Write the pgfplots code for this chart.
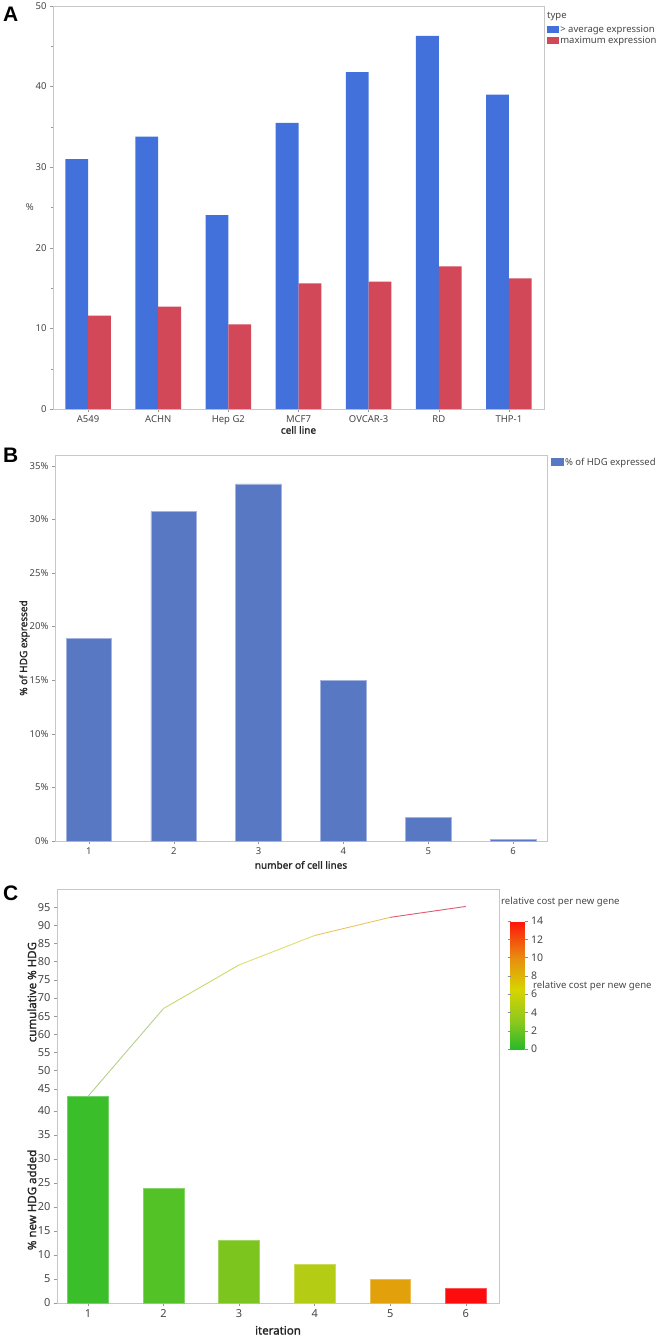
\documentclass[border=0pt]{standalone}
\usepackage{pgfplots}
\pgfplotsset{compat=1.18}
\usepackage{fontspec}
\setmainfont{Noto Sans}
\newfontfamily\labf{Noto Sans}[FakeBold=1.6]
\newfontfamily\arialf{Liberation Sans}
\newcommand\fs[1]{\fontsize{#1bp}{#1bp}\selectfont}
\definecolor{cblue}{RGB}{66,113,220}
\definecolor{cred}{RGB}{211,72,88}
\definecolor{bblue}{RGB}{88,120,196}
\definecolor{c1}{RGB}{58,190,42}
\definecolor{c2}{RGB}{82,194,38}
\definecolor{c3}{RGB}{124,196,30}
\definecolor{c4}{RGB}{180,204,20}
\definecolor{c5}{RGB}{226,160,10}
\definecolor{c6}{RGB}{252,12,12}
\definecolor{l1}{RGB}{181,208,140}
\definecolor{l2}{RGB}{200,216,110}
\definecolor{l3}{RGB}{222,222,110}
\definecolor{l4}{RGB}{234,196,96}
\definecolor{l5}{RGB}{222,90,110}
\definecolor{tk}{RGB}{70,70,70}
\pgfplotsset{
  jmp/.style={
    scale only axis,
    anchor=north west,
    axis line style={draw=black!22},
    tick style={draw=black!40, thin},
    tick align=outside,
    major tick length=3bp,
    minor tick length=2bp,
    xtick pos=bottom, ytick pos=left,
    ticklabel style={font=\fs{9.5}, text=tk},
    label style={font=\labf\fs{10}, text=black!85},
    /pgf/number format/assume math mode=true,
    legend style={draw=none, fill=none, inner sep=0pt, font=\fs{9.5}, text=tk,
      nodes={inner sep=1.2bp}},
    legend cell align=left,
  }
}
\begin{document}
\begin{tikzpicture}
\node[anchor=north west, inner sep=0, font=\arialf\bfseries\fs{21}] at (3bp,-7bp) {A};
\node[anchor=north west, inner sep=0, font=\arialf\bfseries\fs{21}] at (3bp,-448bp) {B};
\node[anchor=north west, inner sep=0, font=\arialf\bfseries\fs{21}] at (3bp,-886bp) {C};

% ---------------- Panel A
\begin{axis}[jmp, at={(53bp,-6bp)}, width=491bp, height=403bp,
  ybar=0pt, bar width=0.325,
  xmin=-0.5, xmax=6.5, ymin=0, ymax=50,
  xtick={0,...,6}, xticklabels={A549,ACHN,Hep G2,MCF7,OVCAR-3,RD,THP-1},
  ytick={0,10,...,50}, minor ytick={5,15,...,45},
  xlabel={cell line}, ylabel={\%},
  xlabel style={at={(axis description cs:0.5,-0.052)}, anchor=center},
  ylabel style={at={(axis description cs:-0.047,0.5)}, anchor=center, rotate=-90, font=\fs{9.5}, text=tk},
  legend style={at={(1.006,0.955)}, anchor=north west},
]
\addplot[fill=cblue, draw=none, legend image code/.code={\fill[cblue] (0bp,-3.5bp) rectangle (12bp,3.5bp);}]
  coordinates {(0,31.0) (1,33.8) (2,24.05) (3,35.5) (4,41.8) (5,46.3) (6,39.0)};
\addplot[fill=cred, draw=none, legend image code/.code={\fill[cred] (0bp,-3.5bp) rectangle (12bp,3.5bp);}]
  coordinates {(0,11.6) (1,12.7) (2,10.5) (3,15.6) (4,15.8) (5,17.7) (6,16.2)};
\legend{> average expression, maximum expression}
\end{axis}
\node[anchor=west, inner sep=0, font=\fs{9.5}, text=tk] at (547bp,-17bp) {type};

% ---------------- Panel B
\begin{axis}[jmp, at={(55bp,-455bp)}, width=492bp, height=386bp,
  xmin=0.6, xmax=6.4, ymin=0, ymax=36,
  xtick={1,...,6}, ytick={0,5,...,35},
  yticklabel={\pgfmathprintnumber{\tick}\%},
  xlabel={number of cell lines}, ylabel={\% of HDG expressed},
  xlabel style={at={(axis description cs:0.5,-0.062)}, anchor=center},
  ylabel style={at={(axis description cs:-0.062,0.5)}, anchor=center},
  legend style={at={(1.008,0.996)}, anchor=north west},
]
\addplot[ybar, bar width=0.54, fill=bblue, draw=bblue!55!white, line width=0.7bp,
  legend image code/.code={\fill[bblue] (0bp,-3.5bp) rectangle (12bp,3.5bp);}]
  coordinates {(1,18.9) (2,30.7) (3,33.3) (4,15.0) (5,2.2) (6,0.12)};
\legend{\% of HDG expressed}
\end{axis}

% ---------------- Panel C (bars)
\begin{axis}[jmp, at={(57bp,-889bp)}, width=442bp, height=414bp,
  xmin=0.59, xmax=6.44, ymin=0, ymax=86.25,
  xtick={1,...,6}, ytick={0,5,...,40},
  ticklabel style={font=\fs{11}},
  label style={font=\labf\fs{11.5}},
  xlabel={iteration}, ylabel={\% new HDG added},
  xlabel style={at={(axis description cs:0.5,-0.066)}, anchor=center},
  ylabel style={at={(axis description cs:-0.057,0.249)}, anchor=center},
]
\addplot[ybar, bar width=0.54, fill=c1, draw=c1!70!white] coordinates {(1,43.0)};
\addplot[ybar, bar width=0.54, fill=c2, draw=c2!70!white] coordinates {(2,24.0)};
\addplot[ybar, bar width=0.54, fill=c3, draw=c3!70!white] coordinates {(3,13.0)};
\addplot[ybar, bar width=0.54, fill=c4, draw=c4!70!white] coordinates {(4,8.0)};
\addplot[ybar, bar width=0.54, fill=c5, draw=c5!70!white] coordinates {(5,5.0)};
\addplot[ybar, bar width=0.54, fill=c6, draw=c6!70!white] coordinates {(6,3.0)};
\end{axis}

% ---------------- Panel C (cumulative line + colour bar)
\begin{axis}[jmp, at={(57bp,-889bp)}, width=442bp, height=414bp,
  xmin=0.59, xmax=6.44, ymin=-14, ymax=100,
  xtick=\empty, ytick={45,50,...,95},
  ticklabel style={font=\fs{11}},
  label style={font=\labf\fs{11.5}},
  axis line style={draw=none},
  ylabel={cumulative \% HDG},
  ylabel style={at={(axis description cs:-0.057,0.751)}, anchor=center},
  colormap={cost}{rgb255(0pt)=(40,185,40); rgb255(30pt)=(140,200,30); rgb255(65pt)=(215,212,0); rgb255(100pt)=(232,140,15); rgb255(140pt)=(255,20,10)},
  point meta min=0, point meta max=14,
  colorbar,
  colorbar style={at={(parent axis.north east)}, anchor=north west, xshift=3bp, yshift=-32bp,
    width=14bp, height=128bp,
    ytick={0,2,...,14}, axis line style={draw=none},
    ytick style={draw=black!45}, major tick length=3bp, tick align=outside,
    yticklabel style={font=\fs{10.5}, text=tk},
    /pgf/number format/assume math mode=true},
]
\addplot[l1, line width=0.9bp] coordinates {(1,42.9) (2,67.1)};
\addplot[l2, line width=0.9bp] coordinates {(2,67.1) (3,79.1)};
\addplot[l3, line width=0.9bp] coordinates {(3,79.1) (4,87.2)};
\addplot[l4, line width=0.9bp] coordinates {(4,87.2) (5,92.2)};
\addplot[l5, line width=0.9bp] coordinates {(5,92.2) (6,95.2)};
\end{axis}
\node[anchor=west, inner sep=0, font=\fs{9.6}, text=tk] at (501bp,-902bp) {relative cost per new gene};
\node[anchor=west, inner sep=0, font=\fs{9.6}, text=tk] at (533bp,-986bp) {relative cost per new gene};
\pgfresetboundingbox
\path[use as bounding box] (0bp,0bp) rectangle (657bp,-1337bp);
\end{tikzpicture}
\end{document}
